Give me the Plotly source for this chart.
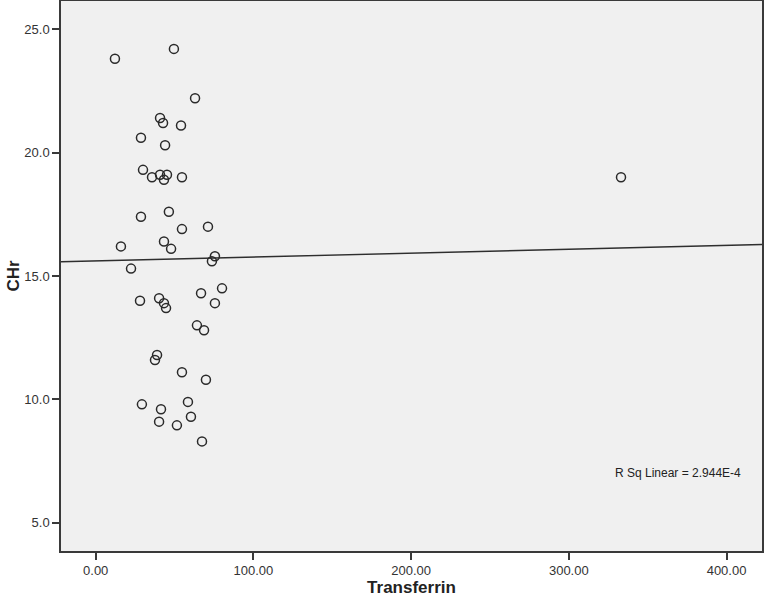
import plotly.graph_objects as go

transferrin = [12.2, 49.6, 63.0, 40.8, 42.7, 54.1, 28.7, 44.0, 30.0, 35.7, 40.8, 45.2, 43.3, 54.7,
               28.7, 46.4, 54.7, 71.2, 16.0, 43.3, 47.8, 75.6, 73.7, 22.4,
               28.1, 40.2, 43.3, 44.6, 66.8, 80.1, 75.6, 64.2, 68.7, 38.9, 37.6, 54.7, 69.9,
               29.3, 41.4, 58.5, 40.2, 60.4, 51.5, 67.4, 333.1]
chr_vals = [23.8, 24.2, 22.2, 21.4, 21.2, 21.1, 20.6, 20.3, 19.3, 19.0, 19.1, 19.1, 18.9, 19.0,
            17.4, 17.6, 16.9, 17.0, 16.2, 16.4, 16.1, 15.8, 15.6, 15.3,
            14.0, 14.1, 13.9, 13.7, 14.3, 14.5, 13.9, 13.0, 12.8, 11.8, 11.6, 11.1, 10.8,
            9.8, 9.6, 9.9, 9.1, 9.3, 8.95, 8.3, 19.0]

fit_intercept = 15.61
fit_slope = 0.00157
r_sq_label = "R Sq Linear = 2.944E-4"

x_range = [-22.0, 422.5]
y_range = [3.86, 26.14]
x_ticks = [0, 100, 200, 300, 400]
x_tick_text = ["0.00", "100.00", "200.00", "300.00", "400.00"]
y_ticks = [5, 10, 15, 20, 25]
y_tick_text = ["5.0", "10.0", "15.0", "20.0", "25.0"]

font_family = "Liberation Sans, Arial, sans-serif"

fig = go.Figure()
fig.add_trace(go.Scatter(
    x=x_range,
    y=[fit_intercept + fit_slope * v for v in x_range],
    mode="lines",
    line=dict(color="#2e2e2e", width=1.4),
    showlegend=False,
    hoverinfo="skip",
))
fig.add_trace(go.Scatter(
    x=transferrin, y=chr_vals, mode="markers",
    marker=dict(symbol="circle-open", size=9, color="#2a2a2a", line=dict(width=1.5, color="#2a2a2a")),
    showlegend=False,
))

fig.add_annotation(
    x=410.5, y=7.0, xref="x", yref="y", text=r_sq_label, showarrow=False,
    xanchor="right", yanchor="middle", font=dict(family=font_family, size=12, color="#222222"),
)

axis_common = dict(
    showgrid=False, zeroline=False, showline=True, linecolor="#3a3a3a", linewidth=1.5,
    mirror=True, ticks="outside", ticklen=7, tickwidth=1.5, tickcolor="#3a3a3a",
    tickfont=dict(family=font_family, size=13, color="#333333"), automargin=False,
)

fig.update_layout(
    width=767, height=607,
    margin=dict(l=61, r=5, t=1, b=56),
    paper_bgcolor="white",
    plot_bgcolor="#F0F0F0",
    xaxis=dict(range=x_range, tickvals=x_ticks, ticktext=x_tick_text,
               title=dict(text="<b>Transferrin</b>", font=dict(family=font_family, size=17, color="#222222"), standoff=0),
               **axis_common),
    yaxis=dict(range=y_range, tickvals=y_ticks, ticktext=y_tick_text,
               title=dict(text="<b>CHr</b>", font=dict(family=font_family, size=17, color="#222222"), standoff=0),
               **axis_common),
)

fig.write_html("out.html", config={"displayModeBar": False},
               post_script="document.body.style.margin='0';")
